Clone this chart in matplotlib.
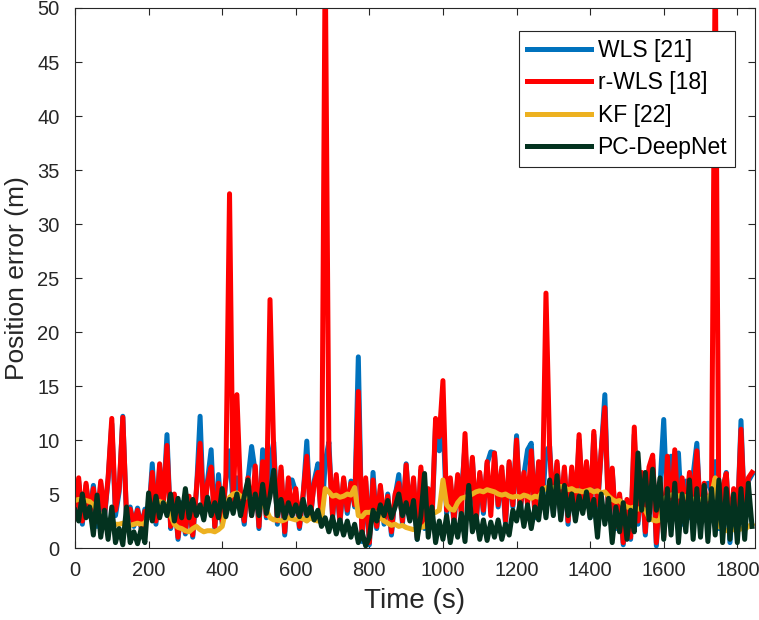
import numpy as np
import matplotlib
matplotlib.use("Agg")
import matplotlib.pyplot as plt

plt.rcParams['font.family'] = ['Liberation Sans', 'DejaVu Sans']

# time grid (s)
time = np.arange(0, 1850, 10)

wls = [
    3.0, 6.2, 2.2, 5.8, 3.2, 5.8, 2.0, 6.0, 2.8, 6.3,
    11.5, 3.0, 5.2, 12.2, 2.8, 3.8, 2.0, 3.7, 1.8, 3.6,
    2.8, 7.8, 2.2, 7.5, 4.2, 10.5, 1.8, 4.8, 0.8, 4.2,
    1.3, 4.5, 1.0, 5.2, 12.2, 2.8, 6.2, 9.1, 1.8, 6.8,
    2.2, 6.3, 9.0, 3.8, 6.5, 4.8, 2.2, 6.3, 9.4, 7.0,
    1.8, 9.1, 2.8, 8.0, 9.8, 2.2, 7.2, 1.2, 6.3, 6.3,
    5.2, 1.8, 4.8, 9.9, 2.8, 6.2, 7.8, 2.2, 8.0, 9.8,
    2.8, 6.5, 2.2, 6.3, 3.2, 6.2, 3.8, 17.7, 0.6, 6.2,
    0.3, 7.0, 1.8, 5.5, 2.2, 5.0, 1.2, 4.8, 6.8, 2.2,
    7.8, 2.8, 6.2, 0.8, 7.2, 1.8, 5.2, 2.2, 11.5, 9.0,
    12.0, 3.2, 6.2, 2.2, 6.5, 5.0, 9.5, 2.8, 8.2, 2.2,
    6.8, 3.2, 7.8, 8.9, 8.8, 3.8, 7.2, 2.2, 7.8, 3.8,
    10.4, 3.2, 6.8, 9.1, 9.7, 2.8, 7.8, 3.8, 9.0, 9.4,
    3.2, 7.8, 2.8, 7.2, 2.2, 7.2, 3.2, 10.0, 3.8, 7.8,
    2.8, 10.5, 3.8, 8.8, 14.2, 2.8, 7.2, 1.8, 4.8, 0.3,
    4.2, 0.8, 10.5, 2.2, 6.8, 1.2, 7.2, 8.2, 0.2, 5.8,
    11.9, 3.0, 8.5, 2.8, 8.8, 2.2, 6.2, 2.8, 6.8, 9.7,
    2.8, 5.8, 6.0, 5.2, 8.0, 1.8, 5.2, 7.0, 0.5, 5.2,
    2.2, 11.8, 2.8, 6.2, 6.8,
]

rwls = [
    3.5, 6.5, 2.5, 6.0, 3.0, 5.5, 2.5, 6.2, 3.0, 6.5,
    12.0, 3.5, 5.5, 12.1, 3.0, 3.6, 2.2, 3.5, 2.0, 3.4,
    3.0, 7.0, 2.5, 7.8, 4.0, 9.5, 2.0, 5.0, 1.0, 4.0,
    1.5, 4.8, 1.2, 5.5, 9.7, 3.0, 6.0, 7.5, 2.0, 6.0,
    2.5, 6.5, 32.8, 4.0, 14.2, 5.0, 2.5, 6.5, 3.0, 7.6,
    2.0, 8.0, 3.0, 23.0, 9.0, 2.5, 7.5, 1.5, 6.5, 3.0,
    5.5, 2.0, 5.0, 8.5, 3.0, 6.0, 7.0, 2.5, 55.0, 9.0,
    3.0, 6.8, 2.5, 6.5, 3.5, 6.0, 4.0, 14.5, 1.0, 6.5,
    0.5, 6.3, 2.0, 5.8, 2.5, 4.8, 1.5, 5.0, 6.0, 2.5,
    7.7, 3.0, 6.5, 1.0, 7.5, 2.0, 5.5, 2.5, 12.0, 10.3,
    15.5, 3.5, 6.5, 2.5, 6.8, 3.0, 10.6, 3.0, 8.4, 2.5,
    7.0, 3.5, 8.0, 3.0, 8.8, 4.0, 7.5, 2.5, 8.0, 4.0,
    10.0, 3.5, 7.0, 4.0, 9.0, 3.0, 8.0, 4.0, 23.6, 9.0,
    3.5, 8.0, 3.0, 7.5, 2.5, 7.5, 3.5, 10.5, 4.0, 8.0,
    3.0, 10.8, 4.0, 9.0, 13.0, 3.0, 7.4, 2.0, 5.0, 0.5,
    4.5, 1.0, 11.2, 2.5, 7.0, 1.5, 7.5, 8.6, 0.5, 6.0,
    1.0, 8.5, 3.0, 9.1, 2.5, 6.5, 3.0, 7.0, 4.0, 9.0,
    3.0, 6.0, 2.5, 5.5, 55.0, 2.0, 5.5, 6.9, 1.5, 5.5,
    2.5, 11.0, 3.0, 6.5, 7.0,
]

kf = [
    4.4, 4.5, 4.5, 4.4, 4.3, 4.0, 3.5, 3.0, 2.6, 2.4,
    2.3, 2.2, 2.2, 2.3, 2.2, 2.1, 2.2, 2.3, 2.2, 2.3,
    3.0, 3.8, 4.2, 4.3, 4.2, 4.0, 3.0, 2.2, 1.9, 1.8,
    1.6, 1.5, 1.8, 2.0, 1.7, 1.5, 1.6, 1.6, 1.5, 1.7,
    2.0, 3.5, 4.7, 5.0, 5.1, 4.8, 4.6, 5.0, 4.5, 4.2,
    4.4, 4.2, 3.5, 2.8, 2.6, 2.6, 2.5, 2.6, 2.8, 2.7,
    2.6, 2.8, 2.7, 2.5, 2.8, 2.6, 2.5, 2.6, 5.5, 5.2,
    4.8, 4.9, 4.7, 4.8, 5.0, 4.9, 5.6, 3.0, 2.9, 3.3,
    3.3, 3.4, 3.2, 2.8, 2.5, 2.3, 2.1, 2.2, 2.0, 2.1,
    1.9, 1.8, 1.7, 1.8, 1.9, 2.0, 2.5, 3.2, 3.3, 3.5,
    6.3, 4.0, 3.6, 3.5, 4.2, 4.6, 4.7, 4.8, 5.0, 5.2,
    5.3, 5.2, 5.4, 5.3, 5.2, 5.0, 4.9, 5.0, 4.8, 4.7,
    4.8, 4.7, 4.9, 4.8, 4.6, 4.8, 4.7, 5.2, 5.6, 5.5,
    5.6, 5.5, 5.7, 5.6, 5.4, 5.5, 5.3, 5.3, 5.2, 5.3,
    5.4, 5.2, 5.3, 5.1, 5.2, 4.8, 4.5, 4.3, 4.4, 4.0,
    3.8, 3.7, 3.8, 3.6, 3.7, 3.5, 2.8, 2.6, 2.5, 2.6,
    4.5, 4.8, 4.9, 5.0, 4.8, 4.9, 4.7, 4.6, 4.5, 4.6,
    4.5, 4.4, 4.6, 5.0, 6.5, 2.0, 1.8, 1.6, 1.8, 1.7,
    1.6, 1.8, 1.7, 2.0, 2.2,
]

pcdeep = [
    3.5, 2.5, 5.0, 2.8, 3.8, 1.2, 4.9, 1.0, 3.5, 0.8,
    3.8, 0.5, 1.8, 0.3, 3.8, 0.5, 1.5, 0.4, 1.8, 0.5,
    5.1, 2.5, 4.8, 2.8, 4.2, 3.0, 5.0, 2.5, 4.6, 2.8,
    5.5, 2.8, 4.5, 3.0, 4.0, 2.6, 4.7, 3.0, 4.2, 2.8,
    5.5, 2.9, 4.5, 3.2, 5.0, 3.0, 4.8, 6.3, 3.0, 5.0,
    3.0, 5.9, 3.2, 4.8, 7.2, 3.0, 4.5, 2.8, 4.2, 3.0,
    4.0, 2.9, 4.5, 3.0, 3.8, 2.6, 3.5, 2.0, 2.8, 1.5,
    2.9, 1.3, 2.6, 1.2, 2.5, 1.0, 2.2, 0.5, 1.5, 0.2,
    1.0, 3.5, 2.5, 4.0, 3.0, 4.4, 2.8, 3.8, 5.0, 3.0,
    4.2, 2.5, 4.4, 0.8, 3.0, 6.9, 1.0, 3.8, 0.5, 2.5,
    0.8, 3.0, 0.5, 2.6, 1.0, 3.2, 0.6, 5.8, 1.5, 3.0,
    0.8, 2.6, 0.7, 2.4, 1.0, 2.6, 0.8, 2.2, 1.2, 3.5,
    2.5, 4.2, 2.0, 4.0, 1.8, 3.8, 2.6, 5.5, 2.8, 6.3,
    3.0, 6.7, 2.6, 5.8, 3.0, 5.0, 2.5, 4.8, 3.2, 5.2,
    2.8, 4.5, 1.0, 5.0, 2.2, 4.6, 0.5, 3.8, 1.5, 4.2,
    0.8, 3.5, 1.5, 8.8, 3.5, 7.0, 2.6, 7.3, 3.5, 6.5,
    0.8, 5.5, 1.2, 6.0, 0.5, 5.0, 1.5, 6.3, 0.8, 5.5,
    1.0, 5.8, 0.6, 5.5, 1.2, 6.3, 0.5, 5.5, 0.8, 5.0,
    0.5, 5.5, 0.8, 6.0, 2.0,
]

labels = ['WLS [21]', 'r-WLS [18]', 'KF [22]', 'PC-DeepNet']
colors = ['#0072BD', '#FF0000', '#EDB120', '#03321F']
xticks = list(range(0, 1801, 200))
yticks = list(range(0, 51, 5))

fig = plt.figure(figsize=(7.59, 6.2), dpi=100)
ax = fig.add_axes([0.0988, 0.1161, 0.8959, 0.871])

for series, lab, col in zip([wls, rwls, kf, pcdeep], labels, colors):
    ax.plot(time, series, color=col, lw=3.6, label=lab, solid_joinstyle='round')

ax.set_xlim(0, 1848)
ax.set_ylim(0, 50)
ax.set_xticks(xticks)
ax.set_yticks(yticks)
axcol = '#262626'
ax.tick_params(direction='in', top=True, right=True, labelsize=14.5,
               colors=axcol, length=5, width=0.8)
ax.tick_params(axis='x', pad=9)
ax.tick_params(axis='y', pad=11)
for s in ax.spines.values():
    s.set_color(axcol)
    s.set_linewidth(0.8)
ax.set_xlabel('Time (s)', fontsize=20, color=axcol, labelpad=6)
ax.set_ylabel('Position error (m)', fontsize=19, color=axcol)
ax.yaxis.set_label_coords(-0.068, 0.5)

leg = ax.legend(loc='upper right', bbox_to_anchor=(0.971, 0.957), fontsize=16.5,
                handlelength=2.8, labelspacing=0.4, borderpad=0.35,
                handletextpad=0.3, fancybox=False, framealpha=1,
                edgecolor=axcol, borderaxespad=0)
leg.get_frame().set_linewidth(0.8)

fig.savefig('out.png', dpi=100)
